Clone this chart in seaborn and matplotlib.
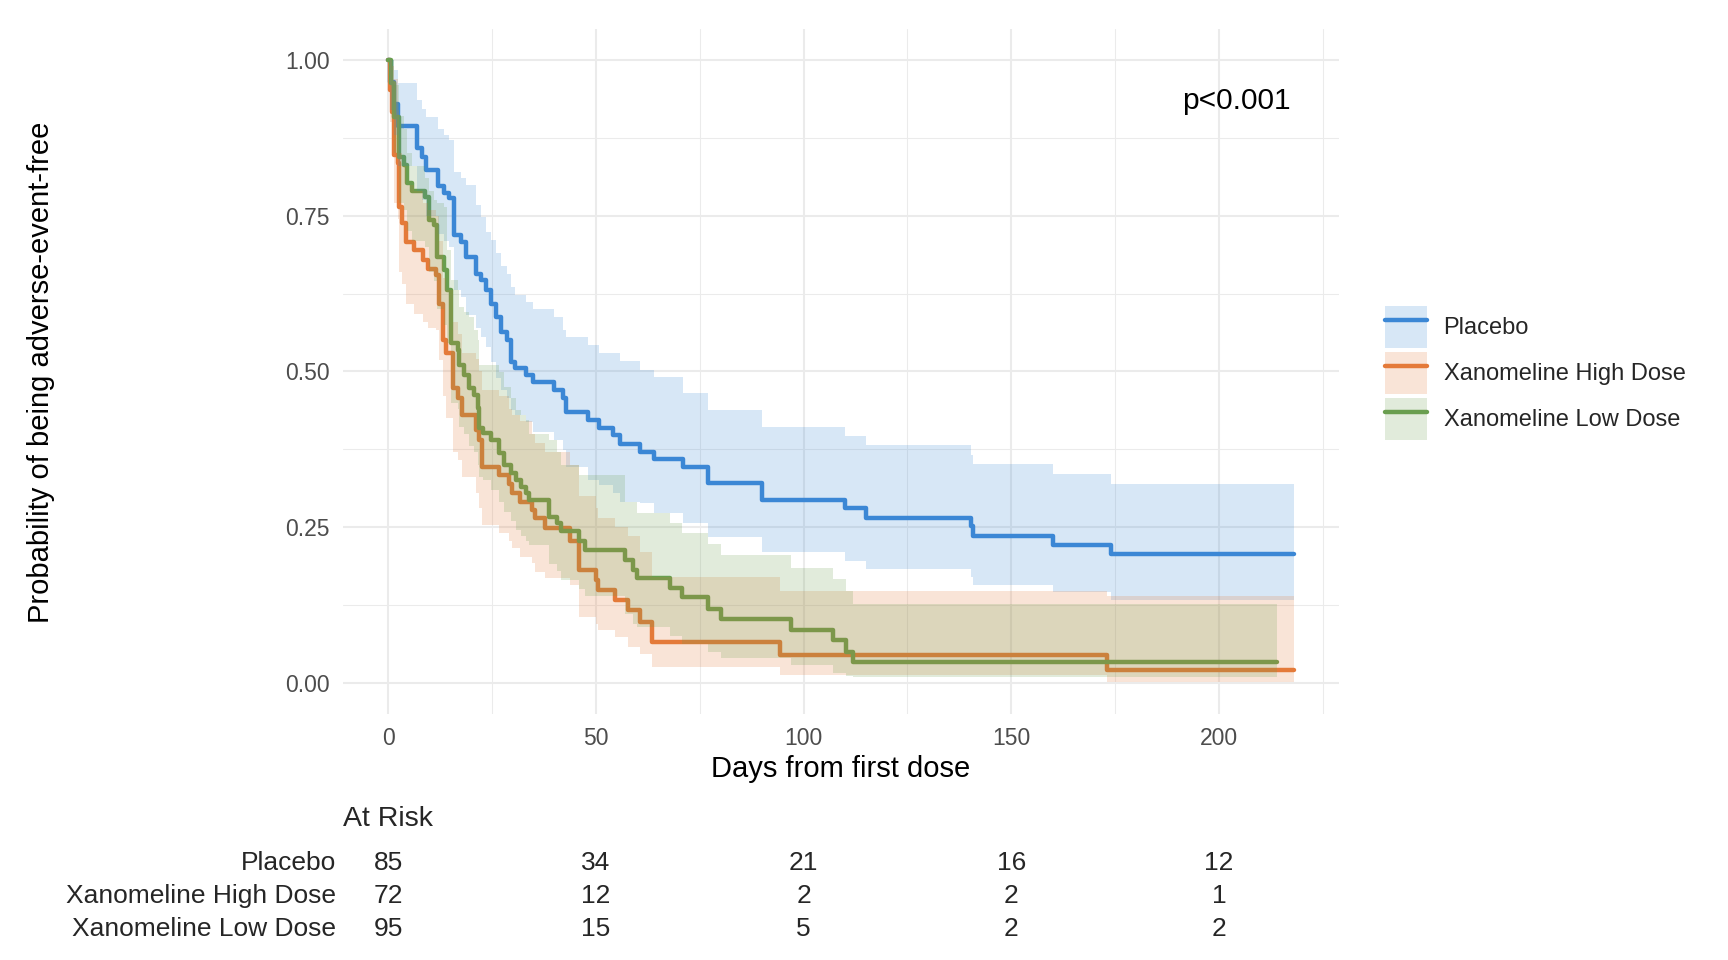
import numpy as np
import pandas as pd
import seaborn as sns
import matplotlib.pyplot as plt
from matplotlib.patches import Patch
from matplotlib.lines import Line2D
from matplotlib.legend_handler import HandlerTuple
from matplotlib.transforms import blended_transform_factory

# Kaplan-Meier estimates (days, survival, 95% CI)
placebo_time = [0, 0.5, 1.3, 2.4, 7.0, 8.2, 9.1, 11.9, 13.5, 14.7, 15.9, 17.5, 18.7, 21.2, 22.3,
                23.5, 24.7, 25.9, 27.1, 28.7, 29.6, 30.4, 33.2, 34.8, 40.0, 42.0, 42.8, 48.0, 50.8,
                54.0, 55.7, 60.5, 64.0, 70.9, 76.9, 90.0, 109.9, 114.9, 140.2, 140.8, 160.0, 174.1, 218.0]
placebo_surv = [1.0, 0.965, 0.93, 0.894, 0.859, 0.845, 0.823, 0.797, 0.786, 0.778, 0.719, 0.708, 0.684,
                0.657, 0.647, 0.631, 0.609, 0.588, 0.564, 0.550, 0.515, 0.505, 0.494, 0.483, 0.470,
                0.457, 0.435, 0.422, 0.409, 0.398, 0.384, 0.371, 0.360, 0.347, 0.321, 0.294, 0.280,
                0.265, 0.251, 0.236, 0.221, 0.207, 0.207]
placebo_lower = [1.0, 0.92, 0.88, 0.83, 0.79, 0.775, 0.75, 0.72, 0.71, 0.70, 0.63, 0.62, 0.59, 0.57,
                 0.555, 0.54, 0.515, 0.49, 0.47, 0.457, 0.438, 0.43, 0.419, 0.403, 0.390, 0.374, 0.347,
                 0.326, 0.318, 0.304, 0.291, 0.289, 0.272, 0.257, 0.234, 0.210, 0.196, 0.182, 0.170,
                 0.157, 0.146, 0.133, 0.133]
placebo_upper = [1.0, 1.0, 0.984, 0.963, 0.936, 0.922, 0.909, 0.890, 0.880, 0.871, 0.821, 0.810, 0.799,
                 0.767, 0.748, 0.724, 0.711, 0.690, 0.670, 0.657, 0.636, 0.623, 0.612, 0.600, 0.588,
                 0.566, 0.555, 0.542, 0.529, 0.529, 0.516, 0.503, 0.491, 0.465, 0.438, 0.411, 0.396,
                 0.382, 0.366, 0.351, 0.335, 0.319, 0.319]

high_time = [0, 0.3, 0.8, 1.4, 2.4, 2.6, 3.3, 4.3, 6.3, 8.3, 9.5, 11.5, 12.3, 13.1, 13.8, 15.7, 16.9,
             17.7, 21.0, 21.8, 22.6, 26.6, 29.0, 29.8, 31.8, 34.6, 35.4, 37.8, 43.8, 45.8, 49.9, 50.6,
             54.6, 57.8, 60.6, 63.5, 94.2, 173.1, 218.0]
high_surv = [1.0, 0.952, 0.917, 0.847, 0.834, 0.764, 0.738, 0.708, 0.695, 0.679, 0.665, 0.655, 0.609,
             0.550, 0.529, 0.473, 0.457, 0.430, 0.406, 0.390, 0.347, 0.334, 0.320, 0.304, 0.291, 0.277,
             0.264, 0.248, 0.227, 0.181, 0.165, 0.149, 0.133, 0.117, 0.098, 0.066, 0.044, 0.021, 0.021]
high_lower = [1.0, 0.90, 0.86, 0.77, 0.745, 0.66, 0.64, 0.609, 0.593, 0.580, 0.570, 0.566, 0.518, 0.46,
              0.425, 0.371, 0.358, 0.331, 0.304, 0.28, 0.253, 0.240, 0.227, 0.216, 0.202, 0.192, 0.178,
              0.168, 0.157, 0.106, 0.095, 0.085, 0.074, 0.058, 0.047, 0.026, 0.012, 0.002, 0.002]
high_upper = [1.0, 1.0, 0.99, 0.97, 0.92, 0.85, 0.83, 0.80, 0.79, 0.77, 0.76, 0.75, 0.71, 0.65, 0.63,
              0.58, 0.56, 0.53, 0.52, 0.50, 0.47, 0.46, 0.44, 0.43, 0.42, 0.40, 0.385, 0.37, 0.35, 0.30,
              0.28, 0.265, 0.25, 0.235, 0.21, 0.17, 0.148, 0.14, 0.14]

low_time = [0, 0.7, 1.4, 2.6, 3.7, 4.5, 5.6, 8.9, 9.8, 11.0, 11.8, 13.4, 14.2, 15.0, 16.7, 17.1, 18.3,
            19.5, 20.7, 21.5, 21.9, 22.7, 24.7, 26.7, 27.9, 29.5, 30.7, 31.9, 33.1, 33.9, 38.7, 40.7,
            41.5, 45.8, 47.4, 57.0, 59.0, 59.8, 67.8, 70.6, 76.9, 80.1, 97.0, 107.0, 110.2, 111.8, 214.0]
low_surv = [1.0, 0.963, 0.909, 0.845, 0.831, 0.802, 0.789, 0.780, 0.743, 0.735, 0.684, 0.663, 0.631,
            0.545, 0.534, 0.510, 0.494, 0.473, 0.462, 0.441, 0.409, 0.401, 0.390, 0.369, 0.350, 0.337,
            0.326, 0.315, 0.304, 0.293, 0.267, 0.256, 0.243, 0.227, 0.213, 0.197, 0.181, 0.168, 0.152,
            0.138, 0.119, 0.103, 0.085, 0.069, 0.050, 0.034, 0.034]
low_lower = [1.0, 0.92, 0.85, 0.77, 0.76, 0.725, 0.71, 0.70, 0.66, 0.645, 0.60, 0.575, 0.545, 0.45,
             0.44, 0.41, 0.40, 0.38, 0.37, 0.35, 0.33, 0.325, 0.31, 0.29, 0.275, 0.26, 0.245, 0.235,
             0.228, 0.222, 0.19, 0.18, 0.165, 0.15, 0.14, 0.11, 0.095, 0.09, 0.075, 0.062, 0.05, 0.04,
             0.028, 0.015, 0.011, 0.009, 0.009]
low_upper = [1.0, 1.0, 0.96, 0.91, 0.89, 0.85, 0.83, 0.81, 0.79, 0.775, 0.77, 0.764, 0.695, 0.647, 0.63,
             0.604, 0.595, 0.588, 0.566, 0.55, 0.51, 0.51, 0.51, 0.499, 0.475, 0.457, 0.438, 0.43, 0.422,
             0.40, 0.39, 0.37, 0.35, 0.334, 0.334, 0.291, 0.291, 0.272, 0.256, 0.241, 0.223, 0.205,
             0.185, 0.166, 0.148, 0.127, 0.127]

arms = ["Placebo", "Xanomeline High Dose", "Xanomeline Low Dose"]
colors = ["#3B87D5", "#E47A39", "#699E4F"]

risk_days = [0, 50, 100, 150, 200]
risk_placebo = [85, 34, 21, 16, 12]
risk_high = [72, 12, 2, 2, 1]
risk_low = [95, 15, 5, 2, 2]

curves = {
    "Placebo": (placebo_time, placebo_surv, placebo_lower, placebo_upper),
    "Xanomeline High Dose": (high_time, high_surv, high_lower, high_upper),
    "Xanomeline Low Dose": (low_time, low_surv, low_lower, low_upper),
}

df = pd.concat([pd.DataFrame({"day": v[0], "surv": v[1], "lower": v[2], "upper": v[3], "arm": k})
                for k, v in curves.items()], ignore_index=True)

sns.set_theme(style="white")
plt.rcParams["font.family"] = ["Liberation Sans", "DejaVu Sans"]

fig = plt.figure(figsize=(17.28, 9.6), dpi=100)
ax = fig.add_axes([0.1985, 0.2563, 0.5764, 0.7136])

sns.lineplot(data=df, x="day", y="surv", hue="arm", hue_order=arms, palette=colors,
             estimator=None, sort=False, drawstyle="steps-post", linewidth=3.2,
             legend=False, ax=ax, zorder=2)

# the bands sit on top of the lines, as in the reference
for arm, col in zip(arms, colors):
    d = df[df["arm"] == arm]
    ax.fill_between(d["day"], d["lower"], d["upper"], step="post", color=col,
                    alpha=0.2, linewidth=0, zorder=3)

ax.set_xlim(-10.9, 228.9)
ax.set_ylim(-0.05, 1.05)
ax.set_xticks([0, 50, 100, 150, 200])
ax.set_xticks([25, 75, 125, 175, 225], minor=True)
ax.set_yticks([0, 0.25, 0.5, 0.75, 1.0])
ax.set_yticklabels(["0.00", "0.25", "0.50", "0.75", "1.00"])
ax.set_yticks([0.125, 0.375, 0.625, 0.875], minor=True)
ax.grid(which="major", color="#EBEBEB", linewidth=1.45)
ax.grid(which="minor", color="#EBEBEB", linewidth=0.75)
ax.set_axisbelow(True)
for s in ax.spines.values():
    s.set_visible(False)
ax.tick_params(which="both", length=0, pad=9.5, labelsize=16.5, labelcolor="#4D4D4D")
ax.set_xlabel("Days from first dose", fontsize=21, color="black", labelpad=3.5)
ax.set_ylabel("")
fig.text(41 / 1728, 1 - 372 / 960, "Probability of being adverse-event-free", rotation=90,
         ha="center", va="center", fontsize=21, color="black")

ax.text(204.2, 0.922, "p<0.001", ha="center", va="baseline", fontsize=21.5, color="black")

# legend keys: light band square with the line drawn across it
handles = [(Patch(facecolor=c, alpha=0.2, linewidth=0), Line2D([], [], color=c, linewidth=3.2))
           for c in colors]
fig.legend(handles, arms, handler_map={tuple: HandlerTuple(ndivide=1, pad=0)},
           loc="upper left", bbox_to_anchor=(1385 / 1728, 1 - 306 / 960),
           bbox_transform=fig.transFigure, frameon=False, fontsize=17,
           handlelength=1.78, handleheight=2.36, labelspacing=0.17, handletextpad=0.7,
           borderpad=0, borderaxespad=0)

# at-risk table
fig.text(343 / 1728, 1 - 826 / 960, "At Risk", ha="left", va="baseline", fontsize=20.5)
tr = blended_transform_factory(ax.transData, fig.transFigure)
rows = [("Placebo", risk_placebo), ("Xanomeline High Dose", risk_high), ("Xanomeline Low Dose", risk_low)]
for i, (label, counts) in enumerate(rows):
    yb = 1 - (870 + 33 * i) / 960
    fig.text(336 / 1728, yb, label, ha="right", va="baseline", fontsize=19)
    for d, n in zip(risk_days, counts):
        ax.text(d, yb, str(n), transform=tr, ha="center", va="baseline", fontsize=19, clip_on=False)

fig.savefig("out.png", dpi=100)
